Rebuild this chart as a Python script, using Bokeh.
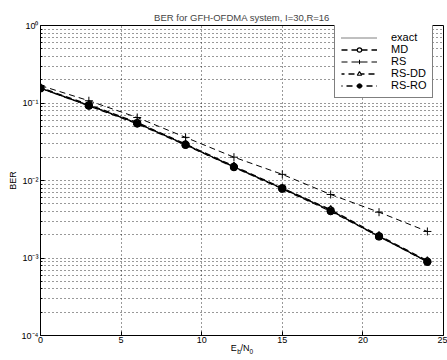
from bokeh.plotting import figure
from bokeh.models import FixedTicker, Legend, LegendItem, LinearAxis
from bokeh.embed import file_html
from bokeh.resources import INLINE

# ---- data ----
snr_db = [0, 3, 6, 9, 12, 15, 18, 21, 24]
ber_exact = [0.155, 0.093, 0.055, 0.029, 0.015, 0.0079, 0.0041, 0.0019, 0.00090]
ber_md = [0.155, 0.093, 0.055, 0.029, 0.015, 0.0079, 0.0041, 0.0019, 0.00090]
ber_rs = [0.168, 0.107, 0.065, 0.036, 0.020, 0.012, 0.0066, 0.0039, 0.0022]
ber_rsdd = [0.158, 0.095, 0.056, 0.0295, 0.0153, 0.0080, 0.0042, 0.00195, 0.00092]
ber_rsro = [0.155, 0.092, 0.054, 0.0287, 0.0148, 0.0078, 0.0040, 0.0019, 0.00089]

y_ticks = [1e-4, 1e-3, 1e-2, 1e-1, 1.0]
y_tick_labels = ["10\u207b\u2074", "10\u207b\u00b3", "10\u207b\u00b2", "10\u207b\u00b9", "10\u2070"]
x_ticks = [0, 5, 10, 15, 20, 25]
title_text = "BER for GFH-OFDMA system, I=30,R=16"
x_label_main = "E\u2004\u200a/N\u2004\u200a"      # E_b / N_0 : base letters
x_label_sub = "\u2003b\u2003\u20040"              # subscripts b and 0

FONT = "Liberation Sans"

p = figure(width=447, height=360, output_backend="svg", toolbar_location=None,
           x_range=(0, 25), y_range=(1e-4, 1), y_axis_type="log",
           min_border_left=40, min_border_right=4, min_border_top=25,
           min_border_bottom=25, background_fill_color="white",
           border_fill_color="white")

p.title.text = title_text
p.title.align = "center"
p.title.text_font = FONT
p.title.text_font_size = "9.5px"
p.title.text_font_style = "normal"
p.title.standoff = 5
p.title.offset = 0

p.outline_line_color = "black"
p.outline_line_width = 1

minor = []
for k in range(-4, 0):
    for m in range(2, 10):
        minor.append(m * 10.0 ** k)
p.yaxis.ticker = FixedTicker(ticks=y_ticks, minor_ticks=minor)
p.yaxis.major_label_overrides = {t: l for t, l in zip(y_ticks, y_tick_labels)}
p.xaxis.ticker = FixedTicker(ticks=x_ticks)

for ax in (p.xaxis[0], p.yaxis[0]):
    ax.axis_line_color = "black"
    ax.major_tick_line_color = "black"
    ax.minor_tick_line_color = "black"
    ax.major_tick_in = 4
    ax.major_tick_out = 0
    ax.minor_tick_in = 2
    ax.minor_tick_out = 0
    ax.major_label_text_font = FONT
    ax.major_label_text_font_size = "9px"
    ax.major_label_text_color = "black"
    ax.major_label_standoff = 2
    ax.axis_label_text_font = FONT
    ax.axis_label_text_font_size = "9px"
    ax.axis_label_text_font_style = "normal"
    ax.axis_label_text_color = "black"
    ax.axis_label_standoff = 1

p.yaxis.axis_label = "BER"
p.xaxis.axis_label = x_label_main
p.xaxis.major_label_standoff = 1
p.xaxis.axis_label_standoff = -3

# second (invisible) axis carrying only the subscripts of the x label
sub_axis = LinearAxis(ticker=FixedTicker(ticks=[]), axis_label=x_label_sub,
                      axis_line_color=None, major_tick_line_color=None,
                      minor_tick_line_color=None, major_tick_in=0, major_tick_out=0,
                      minor_tick_in=0, minor_tick_out=0, major_label_standoff=0,
                      axis_label_standoff=-8, axis_label_text_font=FONT,
                      axis_label_text_font_size="6.5px", axis_label_text_font_style="normal",
                      axis_label_text_color="black")
p.add_layout(sub_axis, "below")

for g in (p.xgrid[0], p.ygrid[0]):
    g.grid_line_color = "black"
    g.grid_line_alpha = 0.8
    g.grid_line_dash = "1 3"
    g.grid_line_width = 1
p.ygrid.minor_grid_line_color = "black"
p.ygrid.minor_grid_line_alpha = 0.8
p.ygrid.minor_grid_line_dash = "1 3"

# ---- series ----
r_exact = p.line(snr_db, ber_exact, line_color="black", line_width=1, line_dash="1 1")

r_md_l = p.line(snr_db, ber_md, line_color="black", line_width=1.3, line_dash="6 4")
r_md_m = p.scatter(snr_db, ber_md, marker="circle", size=7, fill_color="white",
                   line_color="black", line_width=1.2)

r_rs_l = p.line(snr_db, ber_rs, line_color="black", line_width=1, line_dash="6 4")
r_rs_m = p.scatter(snr_db, ber_rs, marker="cross", size=8, line_color="black", line_width=1)

r_dd_l = p.line(snr_db, ber_rsdd, line_color="black", line_width=1.3, line_dash="6 4", line_dash_offset=3)
r_dd_m = p.scatter(snr_db, ber_rsdd, marker="triangle", size=7, fill_color="white",
                   line_color="black", line_width=1.2)

r_ro_l = p.line(snr_db, ber_rsro, line_color="black", line_width=1.3, line_dash="6 4", line_dash_offset=5)
r_ro_m = p.scatter(snr_db, ber_rsro, marker="circle", size=7, fill_color="black",
                   line_color="black")

legend = Legend(items=[
    LegendItem(label="exact", renderers=[r_exact]),
    LegendItem(label="MD", renderers=[r_md_l, r_md_m]),
    LegendItem(label="RS", renderers=[r_rs_l, r_rs_m]),
    LegendItem(label="RS-DD", renderers=[r_dd_l, r_dd_m]),
    LegendItem(label="RS-RO", renderers=[r_ro_l, r_ro_m]),
], location=(294, 237))
legend.label_text_font = FONT
legend.label_text_font_size = "11px"
legend.label_text_color = "black"
legend.label_height = 11
legend.glyph_height = 11
legend.glyph_width = 36
legend.label_standoff = 14
legend.spacing = 0
legend.padding = 6
legend.margin = 0
legend.border_line_color = "black"
legend.border_line_width = 1
legend.background_fill_color = "white"
legend.background_fill_alpha = 1
p.add_layout(legend, "center")

open("out.html", "w").write(file_html(p, INLINE))
